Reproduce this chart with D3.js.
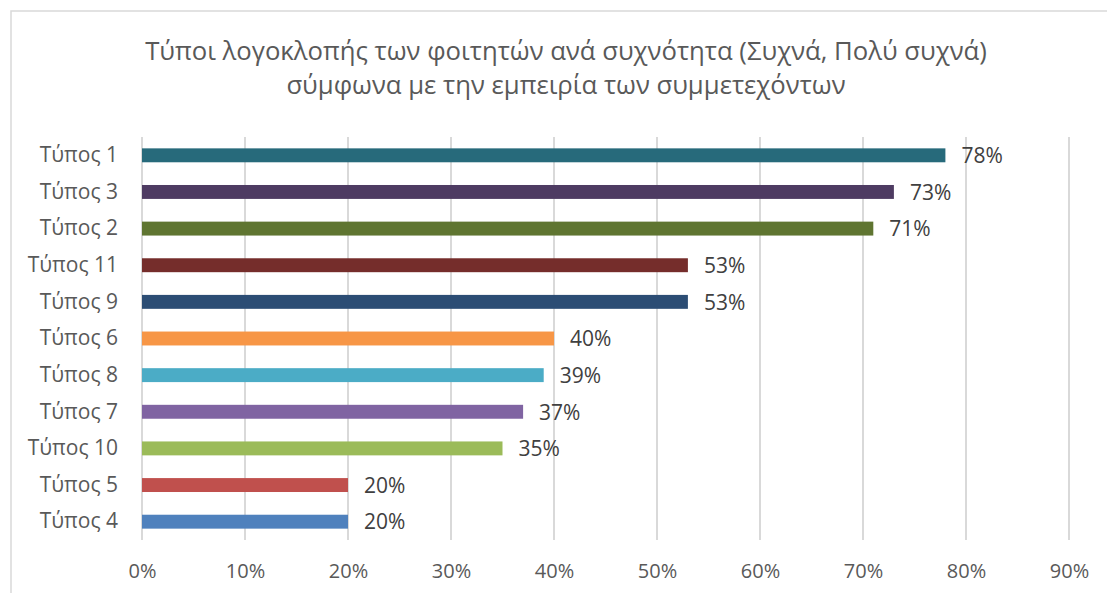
<!DOCTYPE html>
<html lang="el">
<head>
<meta charset="utf-8">
<title>Τύποι λογοκλοπής</title>
<script src="https://cdn.jsdelivr.net/npm/d3@7"></script>
<style>
  body { margin: 0; background: #fff; }
  text { font-family: "Open Sans", "Noto Sans", sans-serif; }
  .grid line { stroke: #d9d9d9; stroke-width: 2; }
</style>
</head>
<body>
<svg id="chart" width="1107" height="593"></svg>
<script>
// data, top to bottom
var categories = ['Τύπος 1', 'Τύπος 3', 'Τύπος 2', 'Τύπος 11', 'Τύπος 9', 'Τύπος 6',
                  'Τύπος 8', 'Τύπος 7', 'Τύπος 10', 'Τύπος 5', 'Τύπος 4'];
var values = [0.78, 0.73, 0.71, 0.53, 0.53, 0.40, 0.39, 0.37, 0.35, 0.20, 0.20];
var colors = ['#276a7b', '#4e3b62', '#5f7531', '#752d2b', '#2c4d74', '#f79646',
              '#4bacc6', '#8064a2', '#9bbb59', '#c0504d', '#4f81bd'];
var ticks = [0, 0.1, 0.2, 0.3, 0.4, 0.5, 0.6, 0.7, 0.8, 0.9];
var titleLines = ['Τύποι λογοκλοπής των φοιτητών ανά συχνότητα (Συχνά, Πολύ συχνά)',
                  'σύμφωνα με την εμπειρία των συμμετεχόντων'];

var svg = d3.select('#chart');

// chart area border
svg.append('rect')
    .attr('x', 11).attr('y', 11)
    .attr('width', 1120).attr('height', 620)
    .attr('fill', '#fff')
    .attr('stroke', '#d9d9d9').attr('stroke-width', 1.5);

var x = d3.scaleLinear().domain([0, 0.9]).range([142, 1069]);
var y = d3.scaleBand().domain(categories).range([137, 540]).paddingInner(0.62).paddingOuter(0.31);

// gridlines
svg.append('g').attr('class', 'grid')
    .selectAll('line').data(ticks).join('line')
    .attr('x1', d => x(d)).attr('x2', d => x(d))
    .attr('y1', 137).attr('y2', 540);

// bars
svg.append('g').selectAll('rect').data(values).join('rect')
    .attr('x', x(0))
    .attr('y', (d, i) => y(categories[i]))
    .attr('width', d => x(d) - x(0))
    .attr('height', y.bandwidth())
    .attr('fill', (d, i) => colors[i]);

// value labels
svg.append('g').selectAll('text').data(values).join('text')
    .attr('x', d => x(d) + 16)
    .attr('y', (d, i) => y(categories[i]) + y.bandwidth() / 2)
    .attr('dy', '0.37em')
    .attr('font-size', 21)
    .attr('fill', '#404040')
    .text(d => Math.round(d * 100) + '%');

// category axis
var yAxis = svg.append('g')
    .attr('transform', 'translate(' + (x(0) - 1) + ',0)')
    .call(d3.axisLeft(y).tickSize(0).tickPadding(23));
yAxis.select('.domain').remove();
yAxis.selectAll('text')
    .attr('font-size', 21)
    .attr('fill', '#595959')
    .style('font-family', '"Open Sans", "Noto Sans", sans-serif');

// value axis
var xAxis = svg.append('g')
    .attr('transform', 'translate(0,540)')
    .call(d3.axisBottom(x).tickValues(ticks).tickFormat(d3.format('.0%')).tickSize(0));
xAxis.select('.domain').remove();
xAxis.selectAll('text')
    .attr('y', 38).attr('dy', 0)
    .attr('font-size', 20)
    .attr('fill', '#595959')
    .style('font-family', '"Open Sans", "Noto Sans", sans-serif');

// title
svg.append('g').selectAll('text').data(titleLines).join('text')
    .attr('x', 566)
    .attr('y', (d, i) => 60 + i * 34)
    .attr('text-anchor', 'middle')
    .attr('font-size', 25.7)
    .attr('fill', '#595959')
    .text(d => d);
</script>
</body>
</html>
